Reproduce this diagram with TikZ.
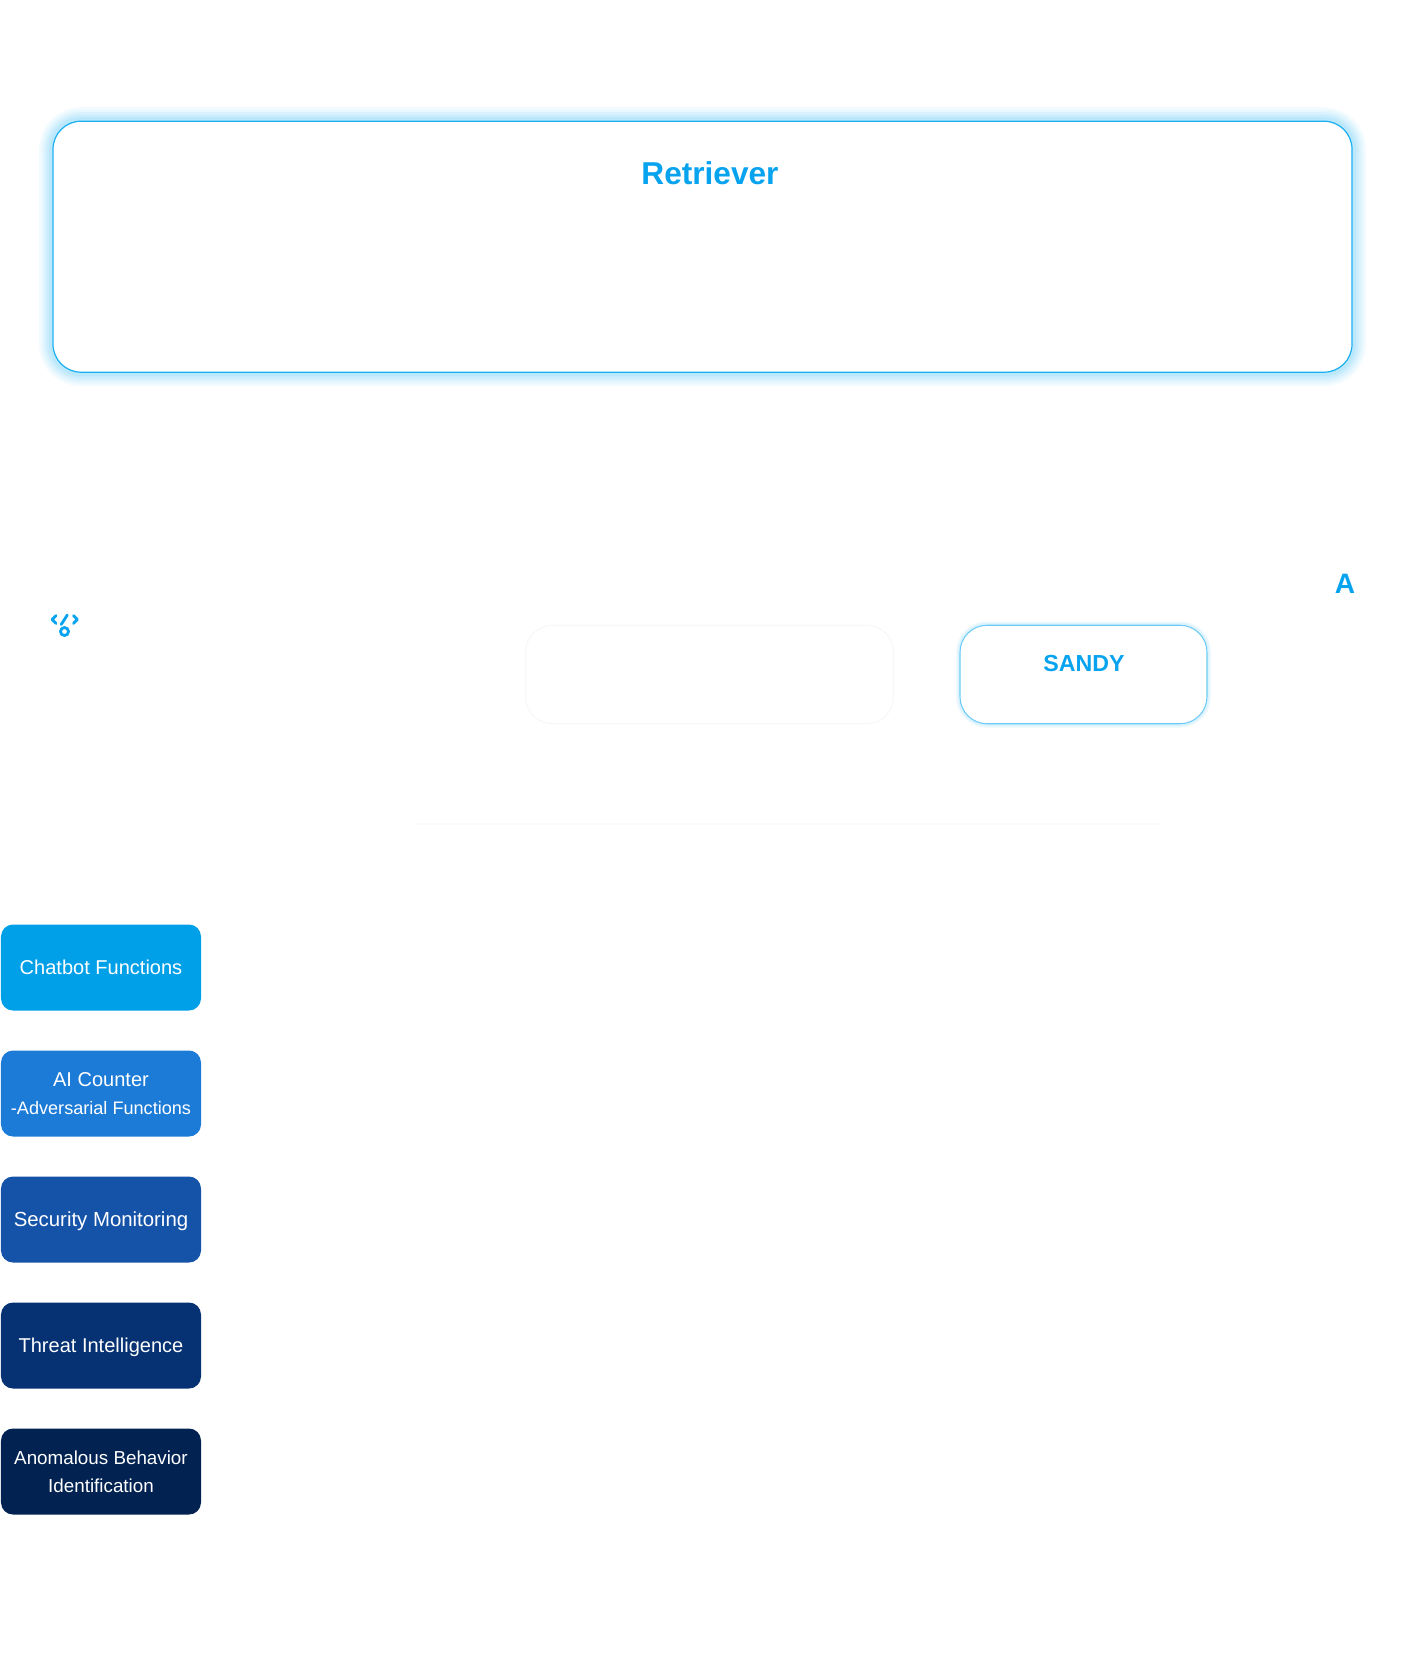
\documentclass[tikz,border=0pt]{standalone}
\usepackage{fontspec}
\setmainfont{Liberation Sans}
\usepackage{tikz}
\usetikzlibrary{positioning}
\definecolor{sky}{HTML}{08A3EE}
\definecolor{skyline}{HTML}{1CB0F2}
\definecolor{softline}{HTML}{6CCBF6}
\definecolor{faintline}{HTML}{F7F7F7}
\definecolor{faintrule}{HTML}{FAFAFA}
\definecolor{funcA}{HTML}{00A0E9}
\definecolor{funcB}{HTML}{1C7BD6}
\definecolor{funcC}{HTML}{1553A8}
\definecolor{funcD}{HTML}{063172}
\definecolor{funcE}{HTML}{022252}
\tikzstyle{bigglow} = [preaction={draw=skyline, line width=0.28cm, opacity=0.05}, preaction={draw=skyline, line width=0.23cm, opacity=0.06}, preaction={draw=skyline, line width=0.18cm, opacity=0.07}, preaction={draw=skyline, line width=0.13cm, opacity=0.08}, preaction={draw=skyline, line width=0.08cm, opacity=0.08}]
\tikzstyle{smallglow} = [preaction={draw=softline, line width=0.08cm, opacity=0.1}, preaction={draw=softline, line width=0.05cm, opacity=0.15}]
\tikzstyle{bigbox} = [rectangle, rounded corners=0.28cm, minimum width=12.99cm, minimum height=2.51cm, draw=skyline, line width=0.35pt, fill=white, bigglow]
\tikzstyle{smallbox} = [rectangle, rounded corners=0.27cm, minimum height=0.985cm, fill=white, line width=0.3pt]
\tikzstyle{funcbox} = [rectangle, rounded corners=0.12cm, minimum width=2cm, minimum height=0.86cm, inner sep=0pt, text=white, text depth=0pt, align=center, font=\fontsize{5.7}{8.1}\selectfont]
\tikzstyle{title} = [text=sky, inner sep=0pt, font=\bfseries\fontsize{9}{11}\selectfont]
\tikzstyle{icon} = [draw=sky, line width=0.8pt, line cap=round, line join=round]
\begin{document}
\begin{tikzpicture}[node distance=1.26cm]
                \useasboundingbox (0,0) rectangle (14.26,-16.54);

                \node (retriever) [bigbox] at (7.025,-2.467) {};
                \node (retriever_title) [title] at (7.1,-1.73) {Retriever};

                \node (letter_a) [title, font=\bfseries\fontsize{8}{10}\selectfont] at (13.45,-5.84) {A};

% ---------------------------------------------
% Middle row
% ---------------------------------------------
                \node (empty_box) [smallbox, minimum width=3.68cm, draw=faintline] at (7.095,-6.745) {};
                \node (sandy_box) [smallbox, minimum width=2.47cm, draw=softline, smallglow] at (10.835,-6.745) {};
                \node (sandy_title) [title, font=\bfseries\fontsize{6.6}{9}\selectfont] at (10.84,-6.635) {SANDY};

                \coordinate (rule_left) at (4.15,-8.24);
                \coordinate (rule_right) at (11.6,-8.24);
                \draw [faintrule, line width=0.3pt] (rule_left) -- (rule_right);

% ---------------------------------------------
% Icon
% ---------------------------------------------
                \draw [icon] (0.56,-6.155) -- (0.522,-6.195) -- (0.56,-6.235);
                \draw [icon] (0.735,-6.155) -- (0.773,-6.195) -- (0.735,-6.235);
                \draw [icon] (0.673,-6.15) -- (0.612,-6.245);
                \draw [icon] (0.645,-6.315) circle (0.04);

% ---------------------------------------------
% Left column
% ---------------------------------------------
                \node (chatbot) [funcbox, fill=funcA] at (1.01,-9.675) {Chatbot Functions};
                \node (counter) [funcbox, fill=funcB, below of = chatbot] {AI Counter\\[-0.3pt]{\fontsize{5.15}{7}\selectfont -Adversarial Functions}};
                \node (monitoring) [funcbox, fill=funcC, below of = counter, font=\fontsize{5.8}{8.1}\selectfont] {Security Monitoring};
                \node (threat) [funcbox, fill=funcD, below of = monitoring] {Threat Intelligence};
                \node (anomalous) [funcbox, fill=funcE, below of = threat, font=\fontsize{5.35}{8.1}\selectfont] {Anomalous Behavior\hspace{0.05cm}\\Identification};

            \end{tikzpicture}
\end{document}
